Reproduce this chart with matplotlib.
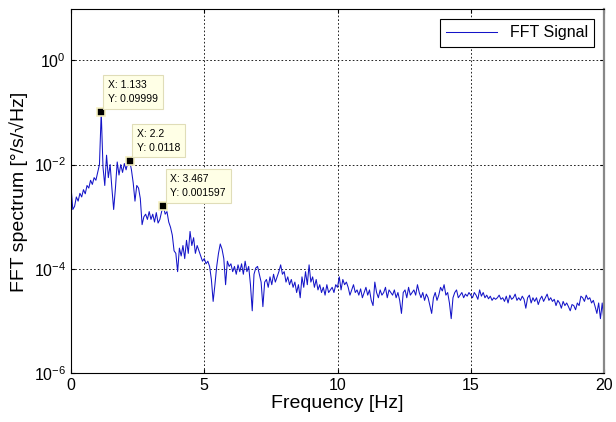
import numpy as np
import matplotlib
matplotlib.use("Agg")
import matplotlib.pyplot as plt

plt.rcParams['font.family'] = ['Liberation Sans', 'DejaVu Sans']
plt.rcParams['mathtext.fontset'] = 'custom'
plt.rcParams['mathtext.rm'] = 'Liberation Sans'
plt.rcParams['mathtext.it'] = 'Liberation Sans:italic'

# Frequency resolution 1/15 Hz, 0..20 Hz (301 bins)
freq_step = 1.0 / 15.0
n_bins = 301

# log10 of spectrum amplitude (15 bins per Hz)
log_amplitude = [
    # 0 Hz
    -2.42, -2.86, -2.80, -2.62, -2.70, -2.55, -2.62, -2.48, -2.56, -2.40, -2.45, -2.30, -2.38, -2.25, -2.30,
    # 1 Hz
    -2.15, -2.00, -1.00, -2.05, -2.40, -1.82, -2.25, -2.00, -2.45, -2.86, -2.45, -1.95, -2.20, -2.00, -2.15,
    # 2 Hz
    -1.98, -2.10, -1.95, -1.928, -2.10, -2.35, -2.70, -2.40, -2.45, -2.65, -3.15, -3.00, -2.95, -3.05, -2.90,
    # 3 Hz
    -3.05, -2.95, -3.10, -2.92, -3.12, -3.05, -2.90, -2.797, -2.95, -2.90, -3.10, -3.20, -3.35, -3.65, -3.70,
    # 4 Hz
    -4.05, -3.60, -3.75, -3.55, -3.80, -3.45, -3.70, -3.28, -3.55, -3.40, -3.70, -3.55, -3.65, -3.75, -3.85,
    # 5 Hz
    -3.80, -3.90, -3.85, -3.95, -4.20, -4.62, -4.30, -3.95, -3.70, -3.52, -3.62, -3.80, -4.30, -3.85, -3.95,
    # 6 Hz
    -3.90, -4.05, -3.95, -4.10, -3.92, -4.05, -3.90, -4.10, -3.85, -4.05, -3.95, -4.30, -4.80, -4.10, -3.98,
    # 7 Hz
    -3.95, -4.10, -4.25, -4.72, -4.25, -4.20, -4.35, -4.15, -4.30, -4.10, -4.25, -4.15, -4.05, -3.92, -4.10,
    # 8 Hz
    -4.05, -4.25, -4.15, -4.30, -4.20, -4.35, -4.25, -4.45, -4.30, -4.55, -4.15, -4.35, -4.05, -4.30, -3.92,
    # 9 Hz
    -4.25, -4.15, -4.35, -4.20, -4.40, -4.30, -4.45, -4.35, -4.50, -4.30, -4.45, -4.40, -4.35, -4.45, -4.30,
    # 10 Hz
    -4.35, -4.15, -4.40, -4.20, -4.30, -4.25, -4.35, -4.50, -4.40, -4.30, -4.45, -4.40, -4.50, -4.38, -4.55,
    # 11 Hz
    -4.45, -4.35, -4.50, -4.40, -4.60, -4.70, -4.25, -4.45, -4.55, -4.40, -4.50, -4.45, -4.35, -4.55, -4.40,
    # 12 Hz
    -4.45, -4.50, -4.40, -4.55, -4.45, -4.60, -4.85, -4.45, -4.40, -4.55, -4.35, -4.50, -4.45, -4.40, -4.50,
    # 13 Hz
    -4.30, -4.45, -4.55, -4.45, -4.60, -4.48, -4.55, -4.70, -4.85, -4.55, -4.45, -4.60, -4.50, -4.35, -4.42,
    # 14 Hz
    -4.30, -4.50, -4.45, -4.65, -4.95, -4.55, -4.45, -4.40, -4.55, -4.50, -4.45, -4.55, -4.48, -4.52, -4.45,
    # 15 Hz
    -4.50, -4.55, -4.45, -4.50, -4.58, -4.40, -4.52, -4.45, -4.55, -4.50, -4.57, -4.52, -4.60, -4.55, -4.58,
    # 16 Hz
    -4.55, -4.50, -4.58, -4.55, -4.62, -4.52, -4.65, -4.50, -4.58, -4.55, -4.48, -4.60, -4.55, -4.60, -4.52,
    # 17 Hz
    -4.58, -4.75, -4.55, -4.50, -4.65, -4.55, -4.62, -4.55, -4.68, -4.58, -4.52, -4.62, -4.55, -4.48, -4.60,
    # 18 Hz
    -4.55, -4.62, -4.58, -4.70, -4.60, -4.65, -4.75, -4.62, -4.70, -4.65, -4.72, -4.80, -4.68, -4.70, -4.78,
    # 19 Hz
    -4.65, -4.70, -4.52, -4.55, -4.62, -4.50, -4.58, -4.55, -4.65, -4.60, -4.72, -4.85, -4.65, -4.95, -4.65,
    # 20 Hz
    -5.00,
]

# data tips
tip_x = [1.133, 2.2, 3.467]
tip_y = [0.09999, 0.0118, 0.001597]
tip_labels = ["X: 1.133\nY: 0.09999", "X: 2.2\nY: 0.0118", "X: 3.467\nY: 0.001597"]

y_ticks = [1e-6, 1e-4, 1e-2, 1e0]
y_tick_labels = [r'$10^{-6}$', r'$10^{-4}$', r'$10^{-2}$', r'$10^{0}$']
x_ticks = [0, 5, 10, 15, 20]

freq = np.arange(n_bins) * freq_step
amp = 10.0 ** np.array(log_amplitude)

fig = plt.figure(figsize=(6.16, 4.22), dpi=100)
ax = fig.add_axes([0.1153, 0.115, 0.8652, 0.8625])

ax.plot(freq, amp, color='#1414C8', lw=0.75, label='FFT Signal')
ax.set_yscale('log')
ax.set_xlim(0, 20)
ax.set_ylim(1e-6, 10 ** 0.97)
ax.set_yticks(y_ticks)
ax.set_yticklabels(y_tick_labels)
ax.yaxis.set_minor_locator(matplotlib.ticker.NullLocator())
ax.set_xticks(x_ticks)
ax.set_xticklabels([str(v) for v in x_ticks])
ax.tick_params(direction='in', labelsize=11.5, length=3, top=True, right=True)
ax.grid(True, which='major', color='black', linestyle=(0, (2, 2.5)), linewidth=0.6)

ax.set_xlabel('Frequency [Hz]', fontsize=14, labelpad=1)
ax.set_ylabel('FFT spectrum [°/s/√Hz]', fontsize=14, labelpad=4)

for s in ax.spines.values():
    s.set_linewidth(0.8)
ax.spines['right'].set_color('#888888')
ax.spines['right'].set_linewidth(1.6)

leg = ax.legend(loc='upper right', fancybox=False, edgecolor='black', framealpha=1,
                fontsize=11.5, handlelength=3.2, borderaxespad=0.6, borderpad=0.4)
leg.get_frame().set_linewidth(0.8)

ax.plot(tip_x, tip_y, linestyle='none', marker='s', markersize=6,
        markerfacecolor='black', markeredgecolor='#F5F0C0', markeredgewidth=1.2, zorder=5)
for x, y, t in zip(tip_x, tip_y, tip_labels):
    ax.annotate(t, xy=(x, y), xytext=(5, 6), textcoords='offset points',
                ha='left', va='bottom', fontsize=7.5, linespacing=1.5,
                bbox=dict(boxstyle='square,pad=0.45', facecolor='#FFFFE6',
                          edgecolor='#E0DDB8', linewidth=0.8), zorder=6)

fig.savefig('out.png', dpi=100)
